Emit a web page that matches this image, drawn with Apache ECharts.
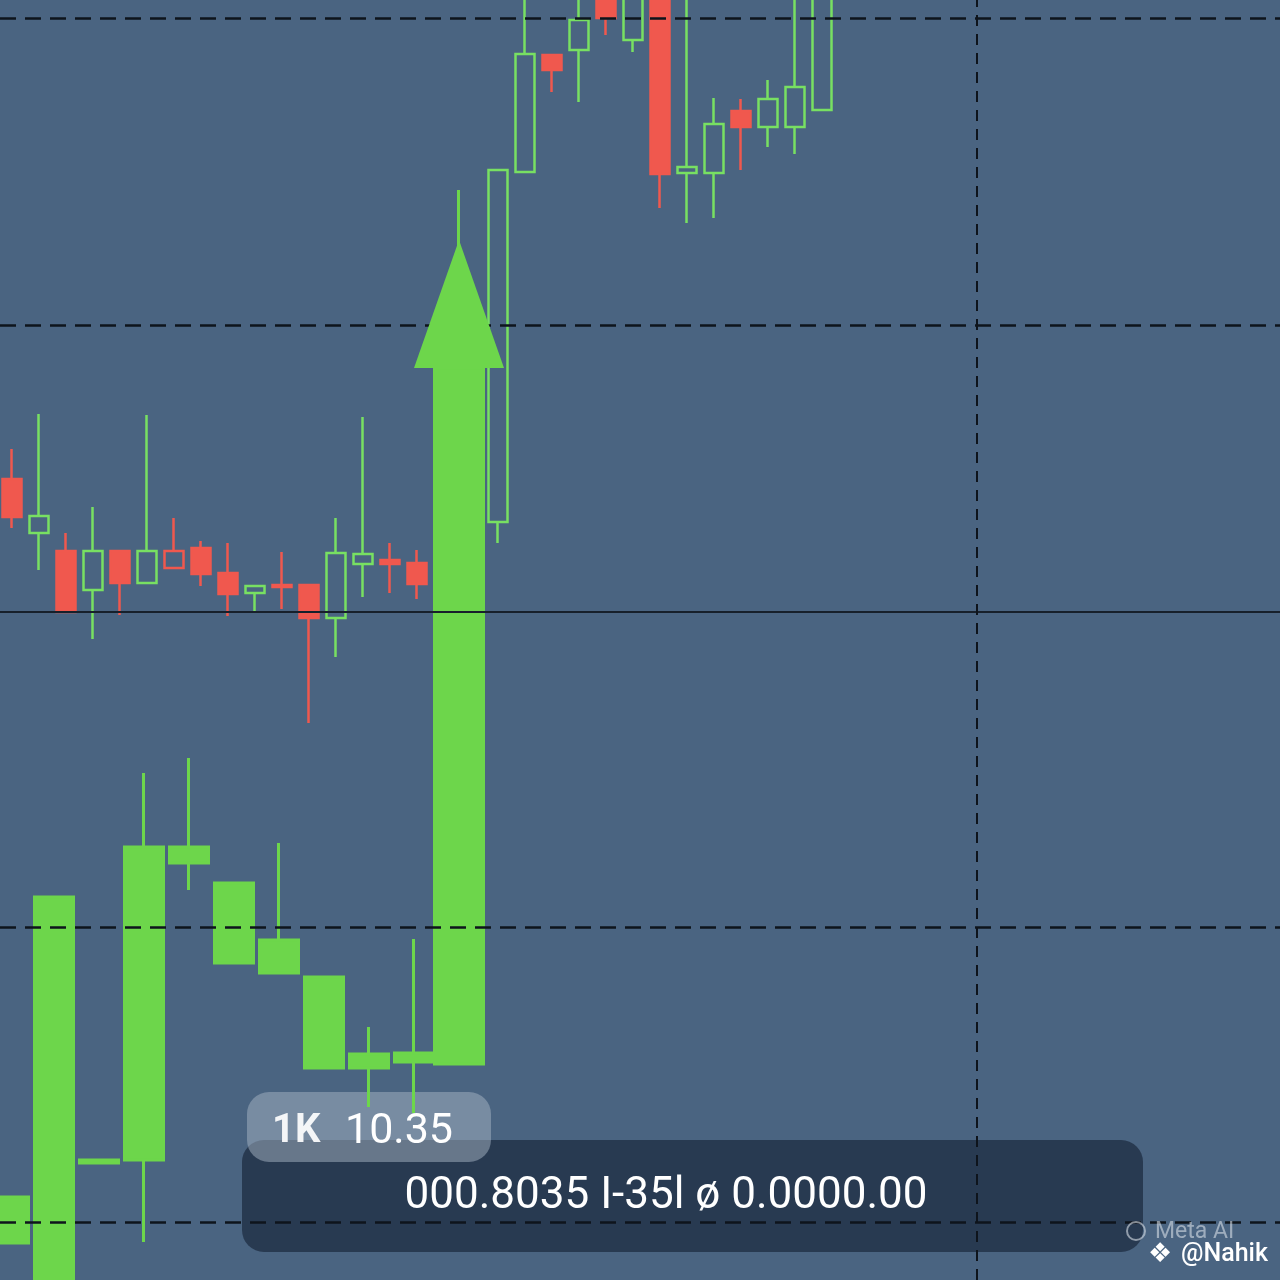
<!DOCTYPE html>
<html><head><meta charset="utf-8">
<script src="https://cdn.jsdelivr.net/npm/echarts@6/dist/echarts.min.js"></script>
<style>html,body{margin:0;padding:0;background:#4a6481}#c{width:1280px;height:1280px}</style>
</head><body><div id="c"></div>
<script>
// ---- data (values: [open, close, low, high]); slot = position index on its time axis ----
const upperCandles = [
  [801, 763, 752, 831], [747, 764, 710, 866], [729, 668, 668, 747], [690, 729, 641, 773],
  [729, 697, 665, 729], [697, 729, 697, 865], [729, 712, 712, 762], [732, 706, 694, 739],
  [707, 686, 664, 737], [687, 694, 668, 694], [695, 693, 671, 728], [695, 662, 557, 695],
  [662, 727, 623, 762], [716, 726, 683, 863], [720, 716, 687, 737], [717, 696, 681, 730],
  null, null,
  [758, 1110, 737, 1110], [1108, 1226, 1108, 1300], [1225, 1210, 1188, 1225], [1230, 1260, 1178, 1290],
  [1290, 1262, 1245, 1300], [1240, 1290, 1228, 1300], [1300, 1106, 1072, 1300], [1107, 1113, 1057, 1300],
  [1107, 1156, 1062, 1182], [1169, 1153, 1110, 1181], [1153, 1181, 1133, 1200], [1153, 1193, 1126, 1300],
  [1170, 1290, 1170, 1300]
];
const hollowBearIdx = [6];

const lowerCandles = [
  [37, 83, 37, 83], [-50, 383, -50, 383], [117, 120, 117, 120], [120, 433, 38, 507],
  [417, 433, 390, 522], [317, 397, 317, 397], [307, 340, 307, 437], [212, 303, 212, 303],
  [212, 226, 173, 253], [218, 227, 167, 341]
];
const arrowSlot = 10;
const arrowCandle = [216, 912, 216, 1090];
const arrowHeadValue = 976;

const levels = [1262, 955, 668, 353, 58];
const solidLevel = 668;
const verticalSlot = 21.5;

const badgeLeft = '1K';
const badgeValue = '10.35';
const panelText = '000.8035 I-35l \u00F8 0.0000.00';

// ---- styling ----
const GREEN = '#6dd64b';
const GREEN_LINE = '#78e062';
const RED = '#f0584e';

const chart = echarts.init(document.getElementById('c'), null, {renderer: 'canvas'});

const upperData = [];
upperCandles.forEach((c, i) => {
  if (!c) return;
  const row = [i, ...c];
  if (hollowBearIdx.includes(i)) {
    upperData.push({value: row, itemStyle: {color0: 'rgba(0,0,0,0)', borderColor0: RED}});
  } else {
    upperData.push(row);
  }
});
const lowerData = lowerCandles.map((c, i) => [i, ...c]);
const arrowData = [[arrowSlot, ...arrowCandle]];

const enc = {x: 0, y: [1, 2, 3, 4]};

chart.setOption({
  backgroundColor: '#4a6481',
  animation: false,
  grid: [
    {left: 0, right: 0, top: 0, bottom: 0},
    {left: 0, right: 0, top: 0, bottom: 0}
  ],
  xAxis: [
    {type: 'value', gridIndex: 0, min: -0.4444, max: 46.963, show: false, splitLine: {show: false}},
    {type: 'value', gridIndex: 1, min: -0.2, max: 28.2444, show: false, splitLine: {show: false}}
  ],
  yAxis: [
    {type: 'value', gridIndex: 0, min: 0, max: 1280, show: false, splitLine: {show: false}},
    {type: 'value', gridIndex: 1, min: 0, max: 1280, show: false, splitLine: {show: false}}
  ],
  series: [
    {
      type: 'line', xAxisIndex: 0, yAxisIndex: 0, data: [], z: 2, silent: true,
      markLine: {
        silent: true, symbol: ['none', 'none'], label: {show: false}, animation: false,
        data: levels.map(v => ({
          yAxis: v,
          lineStyle: v === solidLevel
            ? {color: '#17202b', width: 2, type: 'solid'}
            : {color: '#0e141c', width: 2.5, type: [16, 9]}
        }))
      }
    },
    {
      type: 'line', xAxisIndex: 1, yAxisIndex: 1, data: [], z: 2, silent: true,
      markLine: {
        silent: true, symbol: ['none', 'none'], label: {show: false}, animation: false,
        data: [{xAxis: verticalSlot, lineStyle: {color: '#0e141c', width: 2, type: [11, 8]}}]
      }
    },
    {
      type: 'candlestick', xAxisIndex: 1, yAxisIndex: 1, z: 3, clip: true, encode: enc,
      barWidth: 40, data: lowerData,
      itemStyle: {color: GREEN, color0: GREEN, borderColor: GREEN, borderColor0: GREEN, borderWidth: 3}
    },
    {
      type: 'candlestick', xAxisIndex: 1, yAxisIndex: 1, z: 3, clip: true, encode: enc,
      barWidth: 50, data: arrowData,
      itemStyle: {color: GREEN, color0: GREEN, borderColor: GREEN, borderColor0: GREEN, borderWidth: 3},
      markPoint: {
        silent: true, symbol: 'triangle', symbolSize: [90, 128], label: {show: false},
        itemStyle: {color: GREEN},
        data: [{coord: [arrowSlot, arrowHeadValue]}]
      }
    },
    {
      type: 'candlestick', xAxisIndex: 0, yAxisIndex: 0, z: 4, clip: true, encode: enc,
      barWidth: 19, data: upperData,
      itemStyle: {color: 'rgba(0,0,0,0)', color0: RED, borderColor: GREEN_LINE, borderColor0: RED, borderWidth: 2.5}
    }
  ],
  graphic: [
    {type: 'rect', z: 1, shape: {x: 242, y: 1140, width: 901, height: 112, r: 22},
     style: {fill: 'rgba(28,42,62,0.72)'}},
    {type: 'rect', z: 1, shape: {x: 247, y: 1092, width: 244, height: 70, r: 22},
     style: {fill: 'rgba(165,180,195,0.5)'}},
    {type: 'text', z: 10, x: 272, y: 1132,
     style: {text: badgeLeft, fill: 'rgba(255,255,255,0.92)', font: 'bold 40px Roboto',
       textAlign: 'left', align: 'left', textVerticalAlign: 'middle', verticalAlign: 'middle'}},
    {type: 'text', z: 10, x: 345, y: 1132,
     style: {text: badgeValue, fill: '#ffffff', font: '43px Roboto',
       textAlign: 'left', align: 'left', textVerticalAlign: 'middle', verticalAlign: 'middle'}},
    {type: 'text', z: 10, x: 666, y: 1197,
     style: {text: panelText, fill: '#ffffff', font: '44px Roboto',
       textAlign: 'center', align: 'center', textVerticalAlign: 'middle', verticalAlign: 'middle'}},
    {type: 'circle', z: 10, shape: {cx: 1136, cy: 1231, r: 9},
     style: {fill: 'none', stroke: 'rgba(215,222,230,0.6)', lineWidth: 2}},
    {type: 'text', z: 10, x: 1155, y: 1232,
     style: {text: 'Meta AI', fill: 'rgba(215,222,230,0.6)', font: '23px Roboto',
       textAlign: 'left', align: 'left', textVerticalAlign: 'middle', verticalAlign: 'middle'}},
    {type: 'text', z: 10, x: 1148, y: 1255,
     style: {text: '\u2756', fill: '#ffffff', font: '27px "DejaVu Sans"',
       textAlign: 'left', align: 'left', textVerticalAlign: 'middle', verticalAlign: 'middle'}},
    {type: 'text', z: 10, x: 1181, y: 1255,
     style: {text: '@Nahik', fill: '#ffffff', font: '500 25px Roboto',
       textAlign: 'left', align: 'left', textVerticalAlign: 'middle', verticalAlign: 'middle'}}
  ]
});
</script></body></html>
